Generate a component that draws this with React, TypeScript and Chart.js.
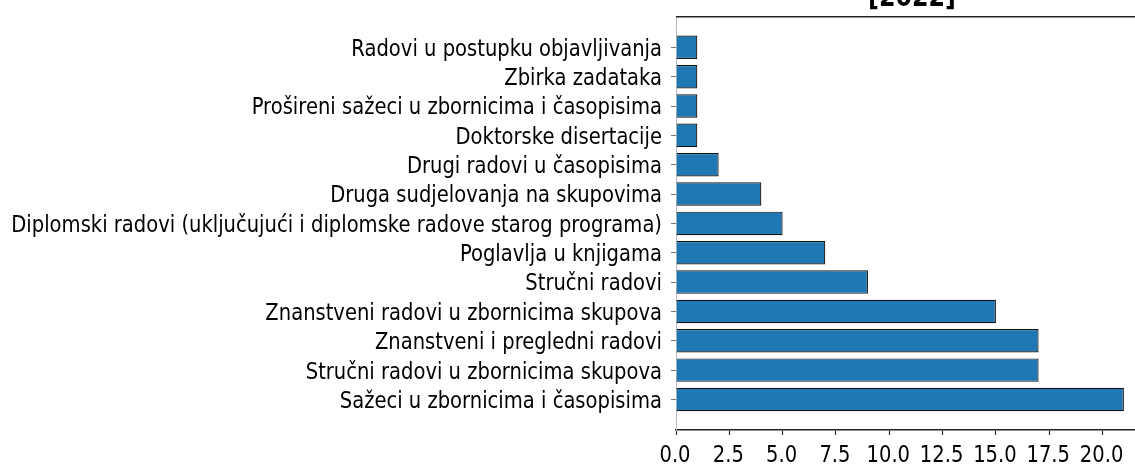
import React, { useEffect, useRef } from "react";
import { Chart, registerables, LinearScale } from "chart.js";

const categories: string[] = [
  "Radovi u postupku objavljivanja",
  "Zbirka zadataka",
  "Prošireni sažeci u zbornicima i časopisima",
  "Doktorske disertacije",
  "Drugi radovi u časopisima",
  "Druga sudjelovanja na skupovima",
  "Diplomski radovi (uključujući i diplomske radove starog programa)",
  "Poglavlja u knjigama",
  "Stručni radovi",
  "Znanstveni radovi u zbornicima skupova",
  "Znanstveni i pregledni radovi",
  "Stručni radovi u zbornicima skupova",
  "Sažeci u zbornicima i časopisima",
];
const values: number[] = [1, 1, 1, 1, 2, 4, 5, 7, 9, 15, 17, 17, 21];
const xTicks: number[] = [0, 2.5, 5, 7.5, 10, 12.5, 15, 17.5, 20];
const titleText = "[2022]";

const FONT = "'DejaVu Sans', sans-serif";
const FS = 23;
const K = 0.85;

class CondLinear extends (LinearScale as any) {
  static id = "condLinear";
  static defaults = (LinearScale as any).defaults;
  drawLabels() {
    const self: any = this;
    const ctx: CanvasRenderingContext2D = self.ctx;
    ctx.save();
    ctx.fillStyle = "#000";
    ctx.font = `${FS}px ${FONT}`;
    const isH = self.isHorizontal();
    for (const t of self.ticks) {
      const label = String(t.label ?? "");
      const p = self.getPixelForValue(t.value);
      ctx.save();
      if (isH) {
        ctx.translate(p - 1, self.top + 31.5);
        ctx.textAlign = "center";
      } else {
        ctx.translate(self.right - 14, p + 0.365 * FS);
        ctx.textAlign = "right";
      }
      ctx.textBaseline = "alphabetic";
      ctx.scale(K, 1);
      ctx.fillText(label, 0, 0);
      ctx.restore();
    }
    ctx.restore();
  }
}

Chart.register(...registerables, CondLinear as any);

export default function App() {
  const ref = useRef<HTMLCanvasElement | null>(null);
  useEffect(() => {
    if (!ref.current) return;
    const spinePlugin = {
      id: "spines",
      afterDraw(chart: any) {
        const { ctx, chartArea } = chart;
        ctx.save();
        ctx.strokeStyle = "#222";
        ctx.lineWidth = 1.5;
        ctx.beginPath();
        ctx.moveTo(chartArea.left, chartArea.top);
        ctx.lineTo(chartArea.right, chartArea.top);
        ctx.stroke();
        ctx.fillStyle = "#000";
        ctx.font = "bold 28px 'DejaVu Sans', sans-serif";
        ctx.textAlign = "center";
        ctx.textBaseline = "alphabetic";
        ctx.translate(912, 6);
        ctx.scale(K, 1);
        ctx.fillText(titleText, 0, 0);
        ctx.restore();
      },
    };
    const chart = new Chart(ref.current, {
      type: "bar",
      data: {
        datasets: [
          {
            data: values.map((v, i) => ({ x: v, y: i })),
            backgroundColor: "#1f77b4",
            borderColor: "#111",
            borderWidth: 1.2,
            categoryPercentage: 1,
            barPercentage: 0.8,
          },
        ],
      },
      options: {
        indexAxis: "y",
        animation: false,
        responsive: true,
        maintainAspectRatio: false,
        layout: { padding: { top: 14, right: 0, left: 0, bottom: 0 } },
        plugins: { legend: { display: false }, tooltip: { enabled: false } },
        scales: {
          x: {
            type: "condLinear",
            min: 0,
            max: 21.52,
            bounds: "data",
            afterBuildTicks: (scale: any) => {
              scale.ticks = xTicks.map((v) => ({ value: v }));
            },
            afterFit: (scale: any) => {
              scale.height = 36;
            },
            ticks: {
              color: "#000",
              font: { family: FONT, size: FS },
              maxRotation: 0,
              minRotation: 0,
              autoSkip: false,
              callback: (v: any) => Number(v).toFixed(1),
            },
            grid: {
              drawOnChartArea: false,
              drawTicks: true,
              tickLength: 5,
              tickColor: "#333",
              tickWidth: 1.2,
            },
            border: { display: true, color: "#222", width: 1.5 },
          },
          y: {
            type: "condLinear",
            reverse: true,
            offset: false,
            min: -1.04,
            max: 13.04,
            bounds: "data",
            afterBuildTicks: (scale: any) => {
              scale.ticks = categories.map((_, i) => ({ value: i }));
            },
            afterFit: (scale: any) => {
              scale.width = 676;
            },
            ticks: {
              color: "#000",
              font: { family: FONT, size: FS },
              autoSkip: false,
              callback: (v: any) => categories[v] ?? "",
            },
            grid: {
              offset: false,
              drawOnChartArea: false,
              drawTicks: true,
              tickLength: 5,
              tickColor: "#777",
            },
            border: { display: true, color: "#bbb", width: 1 },
          },
        },
      },
      plugins: [spinePlugin],
    } as any);
    return () => chart.destroy();
  }, []);
  return (
    <div style={{ position: "absolute", left: 0, top: 0, width: 1135, height: 466, background: "#fff" }}>
      <canvas ref={ref} />
    </div>
  );
}
